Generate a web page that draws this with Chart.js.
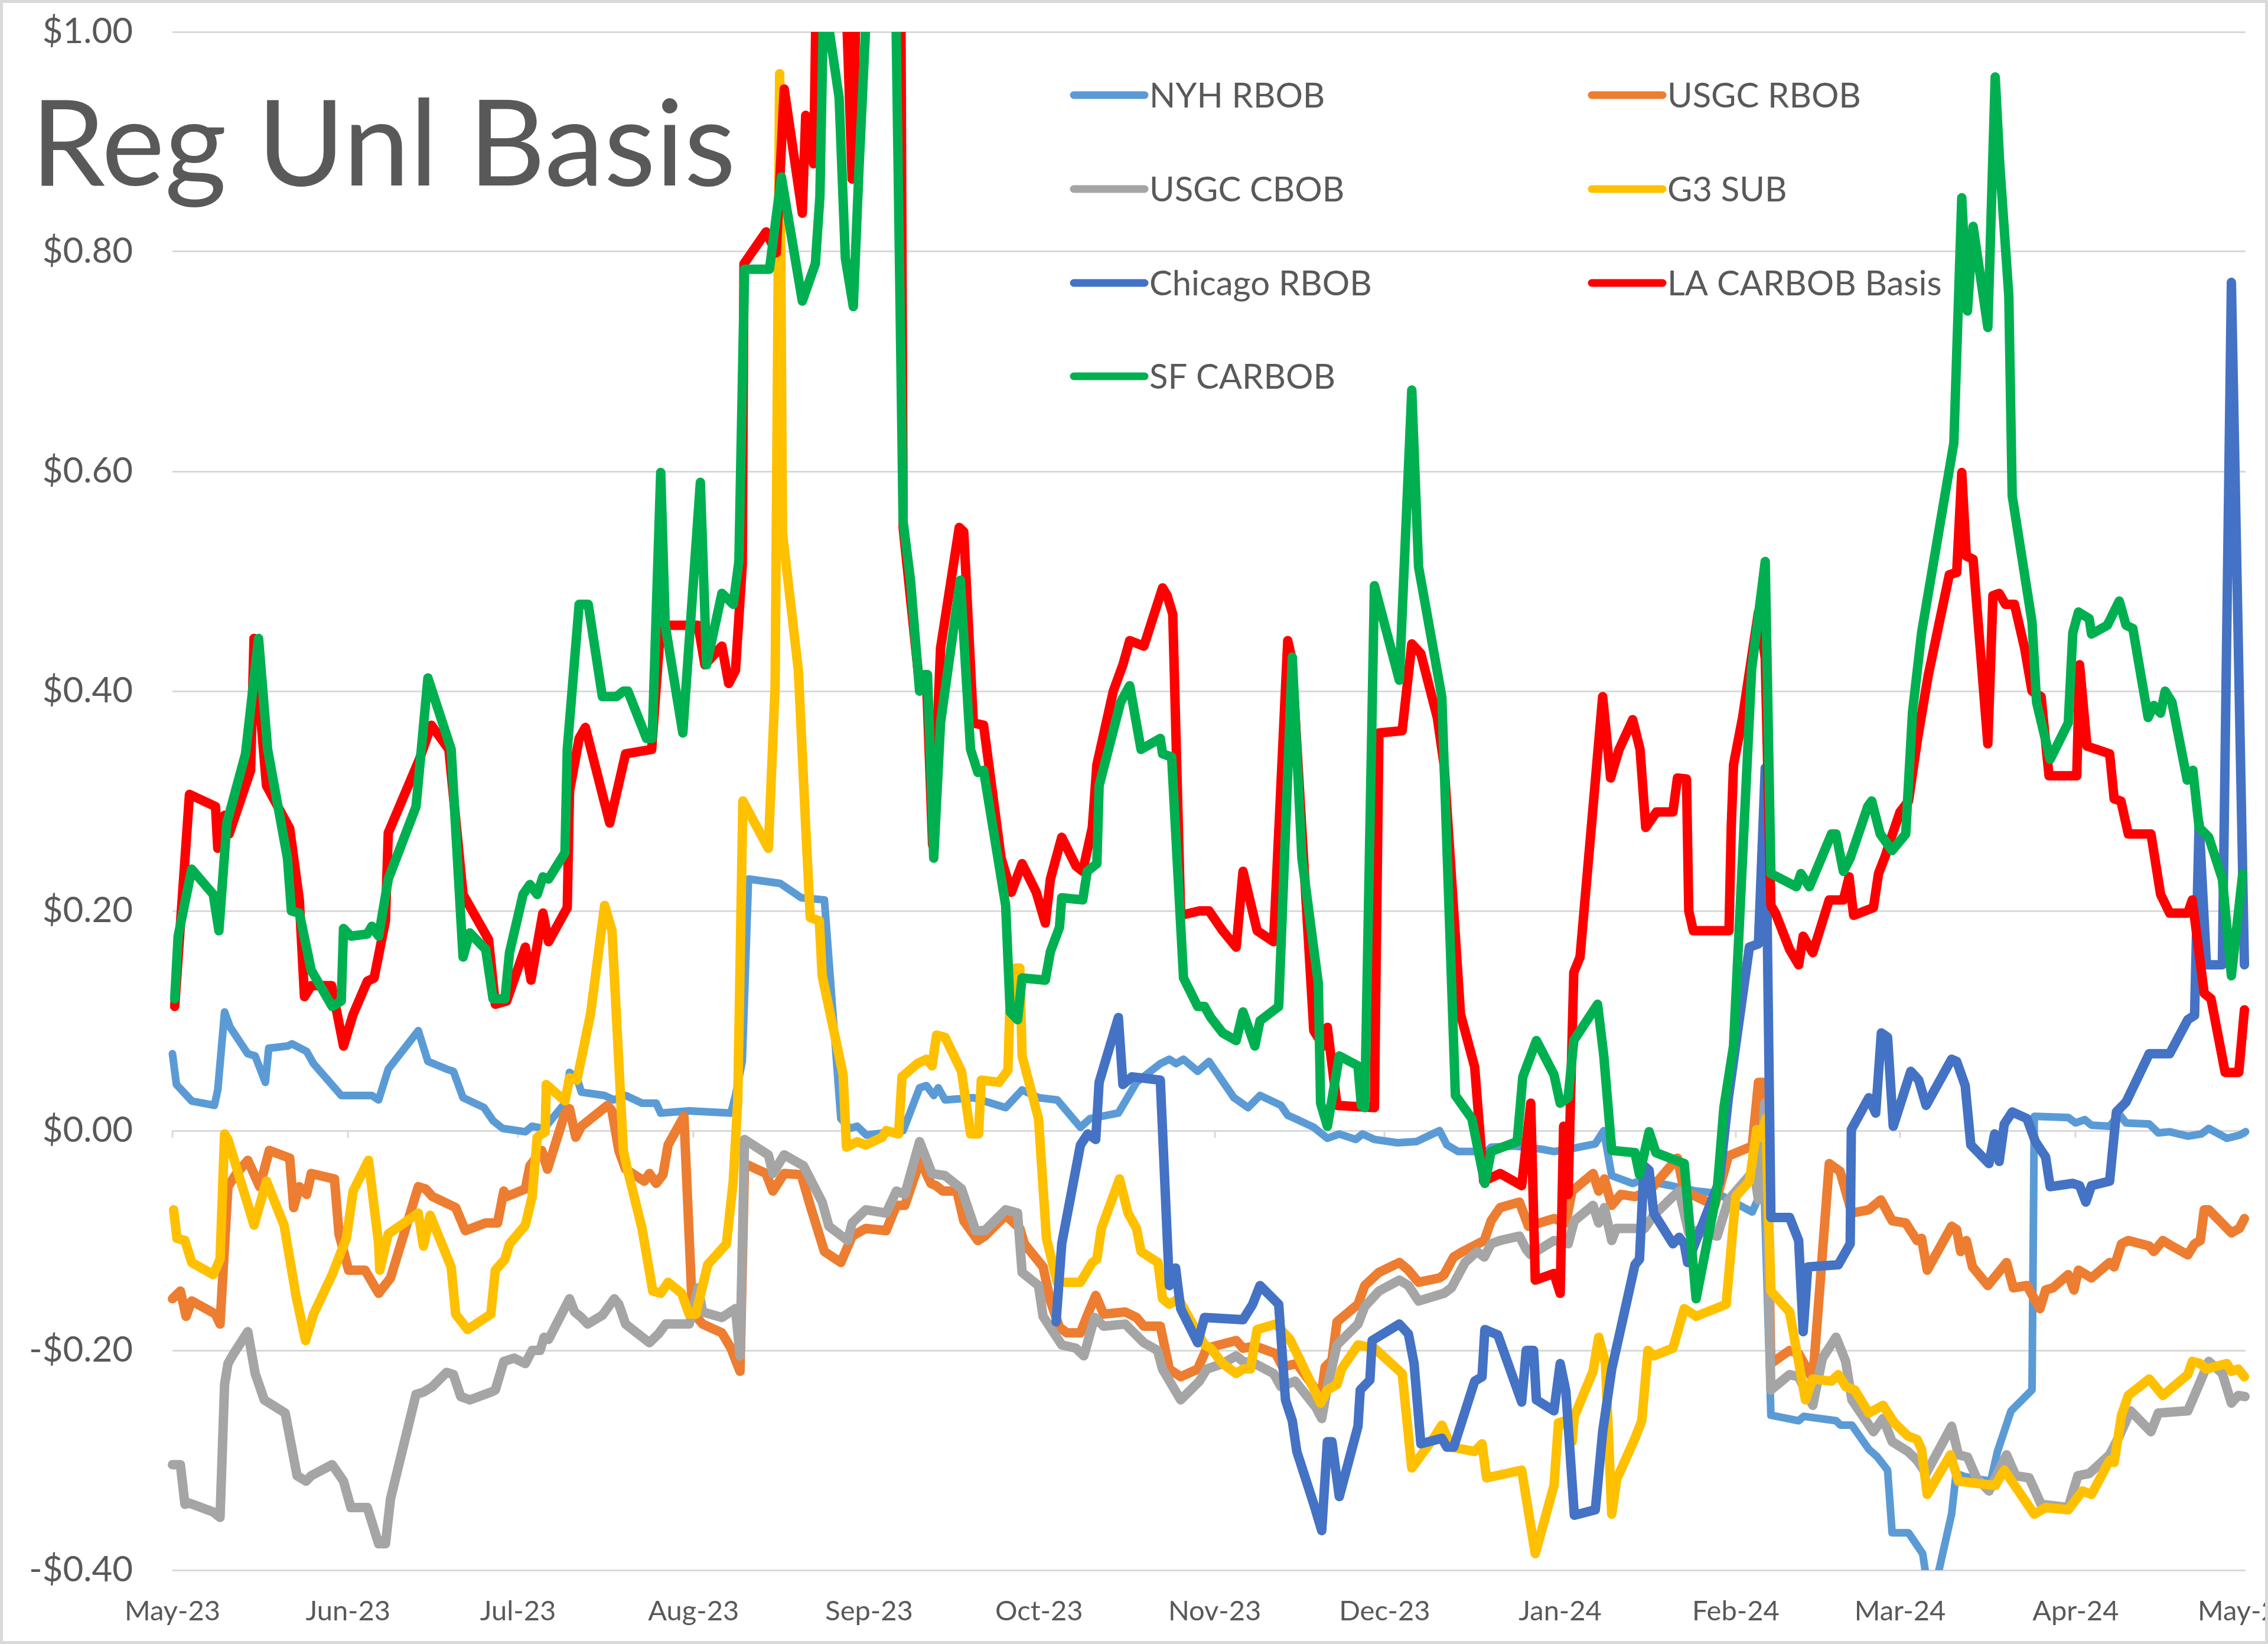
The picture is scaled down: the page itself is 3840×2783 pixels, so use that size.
<!DOCTYPE html>
<html>
<head>
<meta charset="utf-8">
<title>Reg Unl Basis</title>
<script src="https://cdn.jsdelivr.net/npm/chart.js@4.4.1/dist/chart.umd.min.js"></script>
<style>
  html, body { margin: 0; padding: 0; background: #fff; }
  canvas { display: block; }
</style>
</head>
<body>
<canvas id="basisChart" width="3840" height="2783"></canvas>
<script>
// x values are days counted from 1 May 2023
const monthDays = [0, 31, 61, 92, 123, 153, 184, 214, 245, 276, 305, 336, 366];
const monthLabels = ['May-23', 'Jun-23', 'Jul-23', 'Aug-23', 'Sep-23', 'Oct-23', 'Nov-23',
                     'Dec-23', 'Jan-24', 'Feb-24', 'Mar-24', 'Apr-24', 'May-24'];

const seriesNames = ['NYH RBOB', 'USGC RBOB', 'USGC CBOB', 'G3 SUB',
                     'Chicago RBOB', 'LA CARBOB Basis', 'SF CARBOB'];

// [day, $/gal]
const nyhRbob = [[0,0.070],[0.7,0.042],[3.4,0.027],[7.4,0.023],[8,0.037],[9.2,0.108],[10.2,0.094],[13.3,0.070],[14.6,0.068],[16.4,0.044],[17,0.075],[20.3,0.077],[21.1,0.079],[23.7,0.072],[24.9,0.061],[29.8,0.032],[35.2,0.032],[36.4,0.028],[38.1,0.056],[43.4,0.091],[45.1,0.063],[48.4,0.056],[49.6,0.054],[51.3,0.030],[55,0.021],[56.6,0.009],[58.3,0.002],[62.3,-0.001],[63.5,0.004],[65.6,0.002],[69.3,0.025],[70.1,0.053],[71.4,0.048],[72.2,0.035],[76.3,0.032],[77.9,0.028],[80,0.032],[82.9,0.025],[85.4,0.025],[86.2,0.016],[91.2,0.018],[98.6,0.016],[99.4,0.032],[100.6,0.063],[101.7,0.229],[107.3,0.225],[111,0.212],[115.1,0.210],[118,0.011],[119.6,0.002],[120.9,0.004],[122.5,-0.004],[125.7,-0.002],[129,0.000],[131.9,0.039],[133.1,0.041],[134.4,0.032],[135.2,0.039],[136.4,0.028],[141.4,0.030],[147.1,0.021],[150,0.037],[152.9,0.030],[156.2,0.028],[160.3,0.003],[162,0.011],[167,0.016],[170.2,0.044],[174.4,0.061],[176,0.065],[177.2,0.061],[178.5,0.065],[181,0.054],[183,0.063],[187.4,0.030],[189.9,0.021],[192,0.032],[195.7,0.023],[196.9,0.014],[198.2,0.011],[201.5,0.003],[203.9,-0.007],[206,-0.003],[208.9,-0.008],[210.1,-0.003],[212.2,-0.008],[216.3,-0.011],[219.6,-0.010],[223.7,0.000],[225,-0.013],[227,-0.019],[232,-0.019],[232.8,-0.015],[237,-0.014],[241.9,-0.017],[243.9,-0.019],[246.4,-0.017],[251.2,-0.012],[252.7,0.000],[254.1,-0.041],[257.8,-0.048],[259.4,-0.045],[264.5,-0.050],[269,-0.055],[272.7,-0.057],[278.9,-0.074],[281,-0.050],[282.2,-0.259],[287.1,-0.264],[288,-0.260],[293.7,-0.264],[294.5,-0.268],[296.5,-0.268],[299.5,-0.290],[301,-0.297],[302.8,-0.309],[303.6,-0.366],[306.5,-0.366],[309,-0.385],[310,-0.420],[311,-0.420],[314.1,-0.349],[314.9,-0.312],[316.5,-0.315],[321,-0.319],[322.2,-0.292],[324.6,-0.255],[328.3,-0.236],[328.7,0.013],[334.7,0.012],[336,0.007],[337.6,0.010],[338.8,0.005],[342,0.004],[343.7,0.015],[344.9,0.007],[349,0.006],[350.6,-0.002],[352.6,-0.001],[355.8,-0.005],[358.2,-0.003],[359.5,0.002],[362.7,-0.007],[365,-0.004],[366,-0.001]];

const usgcRbob = [[0,-0.153],[1.4,-0.146],[2.4,-0.169],[3.4,-0.155],[7.6,-0.167],[8.4,-0.176],[9.8,-0.051],[11.3,-0.039],[13.3,-0.027],[15.4,-0.051],[17.1,-0.018],[20.7,-0.025],[21.4,-0.070],[22.4,-0.051],[23.7,-0.058],[24.5,-0.039],[28.6,-0.044],[29.4,-0.094],[31.1,-0.127],[34,-0.127],[36.4,-0.148],[38.5,-0.134],[43.4,-0.051],[44.7,-0.053],[45.9,-0.060],[50,-0.070],[51.7,-0.091],[55.3,-0.084],[57.4,-0.084],[58.5,-0.055],[59,-0.060],[62.3,-0.053],[63.1,-0.032],[65.2,-0.018],[66.2,-0.035],[69.3,0.016],[70.1,0.020],[71.2,-0.006],[72.2,0.004],[76.8,0.023],[77.6,0.018],[78.8,-0.018],[80,-0.035],[83.3,-0.046],[84.2,-0.039],[85.4,-0.048],[86.6,-0.040],[87.5,-0.013],[90.3,0.013],[91.8,-0.165],[93.6,-0.176],[97,-0.184],[98.6,-0.198],[100.2,-0.219],[101,-0.030],[104.8,-0.039],[106,-0.055],[108,-0.039],[111,-0.040],[112.7,-0.070],[115.1,-0.110],[118,-0.120],[120,-0.096],[122.4,-0.089],[126,-0.091],[127.8,-0.068],[129.3,-0.068],[132,-0.027],[133.9,-0.048],[134.8,-0.050],[136,-0.055],[138.5,-0.055],[139.7,-0.082],[142.2,-0.100],[143.4,-0.096],[147.1,-0.077],[149.6,-0.089],[150.4,-0.103],[153.7,-0.124],[155,-0.155],[156.6,-0.179],[157.9,-0.184],[160.3,-0.184],[162,-0.162],[163,-0.150],[164.4,-0.167],[168.2,-0.165],[170.2,-0.170],[171.5,-0.178],[174.4,-0.178],[176,-0.217],[178,-0.224],[181,-0.217],[182.6,-0.198],[187.8,-0.191],[189,-0.198],[191.1,-0.196],[194.8,-0.203],[196,-0.215],[198.5,-0.212],[201.9,-0.236],[202.9,-0.238],[203.5,-0.215],[204.7,-0.209],[205.6,-0.174],[209.3,-0.158],[210.5,-0.141],[213,-0.129],[216.6,-0.120],[218.2,-0.127],[220,-0.138],[223.7,-0.134],[224.5,-0.131],[226.2,-0.115],[227.8,-0.110],[231.6,-0.100],[232.8,-0.082],[234.4,-0.070],[237.8,-0.065],[239.4,-0.087],[243.9,-0.080],[246,-0.084],[247.1,-0.055],[250.8,-0.039],[251.8,-0.055],[252.8,-0.044],[254.1,-0.068],[255.7,-0.058],[258.2,-0.060],[260.7,-0.055],[265.7,-0.025],[266.9,-0.055],[272.3,-0.068],[274.7,-0.023],[278.9,-0.014],[280,0.044],[281.2,0.044],[282.2,-0.212],[285.5,-0.200],[287.1,-0.203],[289.6,-0.226],[292.5,-0.030],[294.4,-0.037],[295.4,-0.055],[296.5,-0.075],[299.5,-0.072],[301.6,-0.063],[303.6,-0.082],[306,-0.084],[308,-0.100],[308.8,-0.098],[309.8,-0.127],[314.1,-0.087],[315,-0.090],[315.7,-0.110],[316.7,-0.100],[317.8,-0.124],[320.5,-0.141],[323.8,-0.120],[325,-0.143],[327.4,-0.141],[329.7,-0.162],[330.7,-0.145],[332,-0.143],[334.7,-0.131],[335.7,-0.145],[336.5,-0.127],[338.8,-0.134],[342,-0.120],[342.8,-0.124],[344.1,-0.103],[345.3,-0.100],[349,-0.105],[349.8,-0.110],[351.4,-0.100],[353,-0.105],[355.8,-0.113],[357,-0.103],[358,-0.100],[358.7,-0.072],[359.5,-0.072],[363.5,-0.093],[364.9,-0.089],[365.8,-0.080]];

const usgcCbob = [[0,-0.304],[1.4,-0.304],[2.2,-0.340],[3,-0.339],[7.2,-0.347],[8.4,-0.352],[9.2,-0.231],[9.8,-0.212],[10.8,-0.203],[13.3,-0.183],[14.6,-0.221],[16.2,-0.245],[19.9,-0.257],[22,-0.314],[23.6,-0.319],[24.5,-0.314],[28.2,-0.304],[30.2,-0.319],[31.5,-0.343],[34.4,-0.343],[36.4,-0.376],[37.6,-0.376],[38.5,-0.335],[43,-0.240],[44.3,-0.238],[45.9,-0.233],[48.4,-0.220],[49.6,-0.222],[50.9,-0.242],[52.5,-0.245],[56.2,-0.238],[57,-0.236],[58.5,-0.210],[60.3,-0.207],[62.3,-0.212],[63.5,-0.200],[64.9,-0.200],[65.6,-0.188],[66.4,-0.190],[70.1,-0.153],[71,-0.165],[72.2,-0.170],[73.3,-0.176],[75.9,-0.168],[78,-0.153],[78.8,-0.158],[80,-0.176],[84.2,-0.193],[85.8,-0.185],[87.1,-0.176],[91.2,-0.176],[91.6,-0.170],[92.8,-0.143],[93.6,-0.165],[97,-0.170],[99.4,-0.162],[100.2,-0.205],[101,-0.008],[105.2,-0.022],[106,-0.039],[108,-0.022],[111.4,-0.032],[114.7,-0.065],[115.9,-0.087],[119.2,-0.100],[120,-0.084],[122.4,-0.072],[126,-0.075],[127.8,-0.055],[129.3,-0.058],[131.9,-0.010],[134.1,-0.039],[136.4,-0.041],[139.3,-0.053],[141.8,-0.091],[143.4,-0.091],[147.1,-0.072],[149.2,-0.075],[150,-0.129],[152.9,-0.141],[153.7,-0.169],[157,-0.195],[159.5,-0.198],[160.9,-0.205],[162.8,-0.170],[164.4,-0.178],[168.2,-0.176],[171.5,-0.193],[173.9,-0.200],[174.8,-0.217],[178,-0.245],[181.3,-0.228],[182.6,-0.217],[185.4,-0.212],[187.8,-0.205],[189,-0.210],[191.1,-0.212],[194.4,-0.221],[195.7,-0.233],[198.2,-0.228],[201.9,-0.252],[202.9,-0.262],[203.9,-0.233],[205.6,-0.195],[209.3,-0.176],[210.5,-0.160],[213,-0.146],[216.6,-0.136],[218.2,-0.141],[220,-0.155],[224.5,-0.148],[225.8,-0.143],[228.2,-0.120],[230.3,-0.110],[231.6,-0.115],[232.8,-0.103],[234.4,-0.100],[237.8,-0.096],[239,-0.108],[239.8,-0.113],[243.9,-0.100],[246.4,-0.103],[247.5,-0.082],[250.8,-0.068],[251.8,-0.084],[252.8,-0.070],[254.1,-0.100],[254.9,-0.089],[259.9,-0.089],[261.5,-0.077],[264.9,-0.060],[266,-0.055],[267.7,-0.093],[269,-0.091],[272.7,-0.096],[274.7,-0.063],[278.4,-0.041],[279.3,-0.039],[280,-0.063],[281.1,0.025],[282.2,-0.236],[285.5,-0.222],[287.1,-0.224],[289.6,-0.250],[291.3,-0.207],[293.7,-0.188],[295.4,-0.210],[296.5,-0.245],[300.3,-0.274],[302,-0.262],[303.6,-0.283],[306.4,-0.292],[308,-0.300],[309.6,-0.312],[314.1,-0.269],[315.3,-0.295],[316.9,-0.297],[318.5,-0.316],[320.7,-0.328],[323.8,-0.295],[325.4,-0.314],[327.8,-0.316],[329.9,-0.340],[334.7,-0.343],[336.4,-0.314],[338.4,-0.312],[342,-0.295],[343.7,-0.278],[345.7,-0.255],[349.3,-0.274],[350.6,-0.257],[355.8,-0.255],[357.8,-0.231],[359.5,-0.210],[361.9,-0.221],[363.5,-0.248],[364.7,-0.241],[365.9,-0.242]];

const g3Sub = [[0.2,-0.072],[0.8,-0.098],[2.2,-0.100],[3.4,-0.120],[7.2,-0.131],[8.4,-0.117],[9.2,-0.003],[9.8,-0.008],[14.4,-0.086],[16.6,-0.046],[19.7,-0.086],[21.8,-0.150],[23.5,-0.191],[24.9,-0.167],[28.2,-0.131],[30.7,-0.098],[31.9,-0.055],[34.6,-0.027],[36.4,-0.103],[36.6,-0.127],[38.1,-0.094],[43.4,-0.075],[44.3,-0.105],[45.5,-0.077],[49.2,-0.124],[50,-0.167],[52.1,-0.181],[56.2,-0.167],[57,-0.127],[58.7,-0.117],[59.5,-0.103],[62.3,-0.086],[63.5,-0.060],[64.4,-0.006],[65.8,-0.001],[66,0.042],[69.3,0.027],[70.1,0.048],[71.4,0.046],[73.8,0.106],[76.3,0.205],[77.6,0.182],[79.6,-0.018],[80.4,-0.037],[82.9,-0.089],[84.8,-0.146],[86.2,-0.148],[87.5,-0.138],[89.9,-0.148],[91.2,-0.167],[92.4,-0.167],[94.5,-0.122],[97.8,-0.103],[99,-0.046],[99.8,0.027],[100.7,0.300],[105.2,0.257],[106.4,0.405],[107.2,0.962],[107.7,0.544],[110.5,0.419],[111.8,0.276],[112.6,0.194],[114.2,0.191],[114.7,0.141],[118.4,0.051],[119,-0.015],[120.9,-0.010],[122.4,-0.013],[125.3,-0.006],[126,0.000],[128.2,-0.003],[128.8,0.049],[131.5,0.061],[133.1,0.065],[134.1,0.059],[134.9,0.087],[136.4,0.085],[139.3,0.054],[140.9,-0.003],[142.3,-0.003],[142.8,0.046],[145.9,0.044],[147.5,0.055],[147.8,0.106],[148.8,0.148],[149.6,0.148],[150,0.068],[152.9,0.011],[154.3,-0.098],[156.2,-0.138],[160.3,-0.138],[162.4,-0.120],[163.2,-0.117],[164,-0.089],[167.2,-0.044],[168.7,-0.075],[170.2,-0.089],[171,-0.110],[174,-0.120],[174.8,-0.153],[176,-0.158],[177.6,-0.153],[182.2,-0.195],[183.3,-0.198],[185.4,-0.212],[187.8,-0.221],[189,-0.217],[190.3,-0.217],[191.5,-0.181],[194.8,-0.176],[197.3,-0.190],[198.9,-0.207],[202.7,-0.248],[203.9,-0.236],[205.6,-0.231],[206.4,-0.217],[209.3,-0.195],[212.2,-0.198],[217.1,-0.221],[218.8,-0.307],[222.9,-0.278],[224.1,-0.268],[225.8,-0.288],[229.9,-0.292],[231.2,-0.285],[232,-0.316],[238.2,-0.309],[240.6,-0.385],[243.9,-0.323],[244.7,-0.266],[246,-0.264],[247.1,-0.283],[247.5,-0.260],[250.8,-0.219],[251.8,-0.188],[253,-0.212],[254.1,-0.349],[255,-0.317],[258.2,-0.280],[259.4,-0.264],[260.5,-0.200],[261.5,-0.205],[264.9,-0.198],[266.9,-0.162],[269,-0.169],[274.3,-0.158],[276,-0.060],[278.4,-0.046],[279.7,0.001],[280.5,-0.006],[281.3,0.011],[282.2,-0.146],[285.5,-0.165],[288.3,-0.245],[289.6,-0.226],[292.9,-0.228],[294.1,-0.222],[295.4,-0.233],[297,-0.236],[299.5,-0.257],[302,-0.250],[304,-0.266],[306.4,-0.278],[308,-0.281],[308.8,-0.290],[309.8,-0.331],[313.9,-0.295],[315.3,-0.319],[321.8,-0.323],[323.4,-0.309],[328.7,-0.349],[330.7,-0.343],[334.7,-0.345],[337.2,-0.328],[338.8,-0.331],[342,-0.300],[342.8,-0.302],[344.1,-0.259],[345.3,-0.241],[349,-0.226],[351.4,-0.241],[355.8,-0.222],[356.6,-0.210],[358,-0.212],[359,-0.217],[362.7,-0.212],[363.5,-0.219],[364.7,-0.217],[365.8,-0.224]];

const chicagoRbob = [[156,-0.174],[157,-0.103],[160.3,-0.013],[161.6,-0.003],[163,-0.008],[163.6,0.044],[167,0.103],[167.8,0.042],[169.4,0.049],[174.4,0.046],[176,-0.141],[177.1,-0.125],[178,-0.162],[181,-0.193],[182.2,-0.170],[189,-0.172],[190.7,-0.158],[192,-0.141],[195.3,-0.158],[196.5,-0.245],[197.7,-0.264],[198.5,-0.292],[201.5,-0.340],[202.9,-0.364],[203.9,-0.283],[204.7,-0.283],[206,-0.333],[209.3,-0.269],[209.7,-0.236],[211.4,-0.227],[211.8,-0.191],[216.6,-0.176],[218.2,-0.185],[219.2,-0.212],[220.4,-0.285],[224.1,-0.280],[225,-0.288],[226.2,-0.288],[229.9,-0.228],[231.2,-0.224],[231.7,-0.181],[234,-0.186],[238.2,-0.247],[239,-0.200],[240.3,-0.200],[240.8,-0.245],[243.9,-0.255],[245,-0.212],[246,-0.237],[247.5,-0.350],[251.2,-0.345],[252.5,-0.274],[254.1,-0.217],[258.2,-0.122],[259,-0.117],[259.8,-0.032],[260.7,-0.036],[261.5,-0.075],[264.9,-0.103],[266,-0.097],[266.9,-0.103],[267.5,-0.120],[269,-0.100],[273.1,-0.046],[274.7,0.030],[278.4,0.167],[280,0.170],[281.2,0.330],[282.2,-0.079],[285.5,-0.079],[287.1,-0.100],[287.9,-0.183],[288.7,-0.124],[294.1,-0.122],[296.2,-0.103],[296.4,0.001],[299.5,0.030],[300.7,0.016],[301.7,0.089],[302.8,0.085],[303.8,0.004],[306.9,0.054],[308.3,0.046],[309.6,0.023],[314.1,0.065],[315,0.063],[316.5,0.041],[317.5,-0.013],[320.7,-0.030],[321.7,-0.003],[322.5,-0.028],[323.4,0.006],[324.8,0.017],[327.4,0.011],[328.9,-0.010],[330.7,-0.024],[331.5,-0.051],[335.5,-0.048],[336.7,-0.050],[337.8,-0.065],[338.8,-0.050],[342,-0.046],[343.2,0.017],[344.9,0.026],[349,0.070],[352.6,0.070],[355.8,0.101],[357,0.105],[357.8,0.280],[359.1,0.151],[361.9,0.151],[363.5,0.772],[365.8,0.151]];

const laCarbob = [[0.4,0.113],[3,0.306],[7.6,0.295],[8,0.257],[9.2,0.287],[10,0.270],[13.8,0.328],[14.4,0.448],[16.6,0.314],[20.7,0.275],[22.4,0.210],[23.3,0.122],[24.5,0.132],[28.1,0.132],[30.2,0.077],[31.9,0.106],[34.4,0.136],[35.6,0.139],[37.6,0.191],[38.1,0.271],[43.6,0.338],[45.7,0.369],[48.8,0.347],[51.3,0.215],[55.8,0.174],[57,0.115],[59,0.118],[62.3,0.167],[63.3,0.137],[65.4,0.198],[66.4,0.172],[69.7,0.203],[70.1,0.309],[71.8,0.357],[72.9,0.367],[77.2,0.280],[80,0.343],[84.6,0.347],[86.2,0.460],[92.8,0.460],[94,0.424],[97,0.441],[98.2,0.407],[99.4,0.419],[100.6,0.515],[100.9,0.789],[104.8,0.818],[106.6,0.799],[108,0.948],[111.2,0.835],[111.8,0.924],[113.2,0.880],[114,1.150],[118,1.150],[118.8,1.050],[120,0.866],[121,1.100],[128.5,1.150],[129,0.549],[131.9,0.405],[133.1,0.415],[134.2,0.260],[135.6,0.439],[138.9,0.549],[139.7,0.545],[141.4,0.371],[143.2,0.369],[146.3,0.248],[148.1,0.217],[150,0.243],[152.5,0.217],[154.1,0.189],[155,0.229],[157,0.267],[159.5,0.241],[160.7,0.236],[162.4,0.276],[163.2,0.333],[166.1,0.400],[167.8,0.424],[169,0.446],[171.5,0.441],[174.8,0.494],[175.6,0.487],[176.6,0.470],[178,0.196],[181.3,0.200],[183,0.200],[185.4,0.182],[187.8,0.167],[189,0.236],[191.5,0.182],[194.4,0.172],[196.9,0.446],[197.6,0.430],[201.5,0.091],[203.2,0.077],[203.9,0.094],[205.6,0.023],[212.2,0.021],[213,0.362],[217.1,0.364],[218.8,0.443],[220.4,0.434],[223.3,0.376],[224.5,0.333],[227.4,0.106],[229.9,0.058],[231.5,-0.046],[234.4,-0.039],[238.2,-0.050],[239.8,0.025],[240.6,-0.136],[243.9,-0.130],[245,-0.148],[245.6,0.004],[246.4,-0.058],[247.4,0.144],[248.5,0.158],[252.5,0.395],[253.9,0.321],[255.4,0.347],[257.8,0.374],[259.1,0.347],[260.1,0.276],[262,0.290],[264.9,0.290],[265.7,0.321],[267.3,0.320],[267.7,0.200],[268.5,0.182],[274.8,0.182],[275.2,0.276],[275.6,0.333],[277.2,0.376],[280,0.472],[281.2,0.430],[282.2,0.205],[283,0.198],[285.5,0.165],[287.1,0.151],[287.9,0.177],[289.6,0.162],[292.5,0.210],[295,0.210],[296,0.231],[296.8,0.196],[300.3,0.203],[301.2,0.234],[302.4,0.250],[303.2,0.263],[305,0.290],[306.5,0.300],[308.1,0.357],[310,0.415],[313.7,0.506],[315,0.508],[315.9,0.599],[316.7,0.523],[317.9,0.520],[320.5,0.352],[321.4,0.487],[322.5,0.489],[323.6,0.479],[325.2,0.479],[327,0.439],[328.3,0.400],[329.9,0.395],[331.3,0.323],[336.2,0.323],[336.7,0.424],[338,0.350],[342,0.343],[342.8,0.302],[344,0.300],[345.3,0.270],[349.3,0.270],[351,0.215],[352.6,0.198],[355.8,0.198],[356.6,0.210],[358.7,0.125],[359.9,0.120],[362.4,0.053],[364.8,0.053],[365.8,0.110]];

const sfCarbob = [[0.4,0.120],[1,0.177],[3.4,0.238],[7.2,0.215],[8.2,0.182],[9.6,0.280],[12.9,0.343],[15.2,0.448],[16.8,0.347],[20.3,0.248],[21,0.200],[22.4,0.198],[24.5,0.146],[28.2,0.113],[29.8,0.118],[30.2,0.184],[31.5,0.177],[34.4,0.179],[35.2,0.186],[36.4,0.177],[38.1,0.229],[43,0.295],[45.1,0.412],[49.2,0.347],[51.3,0.158],[52.5,0.180],[55.3,0.165],[56.6,0.120],[58.7,0.120],[59.5,0.162],[61.9,0.215],[63.1,0.224],[64.4,0.215],[65.4,0.231],[66.4,0.229],[69.3,0.253],[69.7,0.347],[71.8,0.479],[73.4,0.479],[75.9,0.395],[78.4,0.395],[79.6,0.400],[80.4,0.400],[83.7,0.357],[84.7,0.357],[86.2,0.599],[87,0.460],[90.1,0.362],[93.2,0.590],[94.3,0.424],[97,0.489],[99,0.479],[100,0.518],[101,0.784],[105.4,0.784],[107.5,0.868],[111.2,0.755],[113.5,0.789],[114.3,0.850],[114.9,1.010],[115.7,1.010],[117.7,0.940],[118.8,0.794],[120.2,0.750],[121.2,0.875],[122.8,1.050],[127.5,1.100],[129,0.554],[130.3,0.501],[131.9,0.400],[132.7,0.415],[133.3,0.415],[134.4,0.248],[135.6,0.371],[139.1,0.501],[140.9,0.347],[142.2,0.326],[143.2,0.328],[147.1,0.205],[147.9,0.108],[149.2,0.101],[150,0.139],[154.1,0.137],[155,0.163],[156.6,0.185],[157,0.212],[160.7,0.210],[161.5,0.236],[163.2,0.243],[163.6,0.314],[167.4,0.390],[169,0.405],[171,0.347],[174.4,0.357],[174.8,0.343],[176.4,0.340],[178.5,0.139],[181,0.113],[182.2,0.113],[183.3,0.103],[185.4,0.089],[187.8,0.082],[189,0.108],[191.1,0.077],[192,0.100],[195.3,0.113],[197.7,0.431],[199.4,0.248],[202.3,0.134],[202.7,0.025],[203.9,0.004],[206,0.068],[209.3,0.059],[209.9,0.023],[210.5,0.021],[212.2,0.496],[216.6,0.410],[218.8,0.674],[220,0.513],[224.1,0.395],[226.5,0.032],[229.4,0.011],[231.7,-0.048],[232.8,-0.019],[237.4,-0.010],[238.4,0.049],[240.8,0.082],[243.9,0.051],[245,0.025],[246.4,0.030],[247.4,0.082],[251.6,0.115],[252.7,0.068],[254.1,-0.018],[258.2,-0.020],[259,-0.040],[260.7,-0.001],[261.9,-0.020],[266.9,-0.030],[269,-0.153],[272.7,-0.055],[273.9,0.021],[275.6,0.077],[278.8,0.420],[281.2,0.518],[282.2,0.234],[286.7,0.222],[287.5,0.234],[289,0.222],[292.9,0.270],[293.7,0.270],[295,0.236],[296.2,0.248],[299.3,0.295],[300,0.300],[301.5,0.270],[303.6,0.255],[306,0.270],[307.2,0.381],[308.8,0.453],[314.5,0.626],[315.9,0.849],[316.9,0.746],[317.9,0.823],[320.5,0.731],[321.8,0.959],[322.6,0.880],[324.2,0.760],[324.8,0.578],[328.3,0.463],[329.1,0.390],[331.5,0.338],[334.7,0.371],[335.5,0.453],[336.5,0.472],[338.4,0.466],[338.8,0.452],[341.6,0.460],[343.7,0.482],[344.9,0.460],[346.1,0.457],[348.8,0.376],[349.8,0.387],[351,0.380],[351.8,0.400],[353,0.390],[355.7,0.319],[356.7,0.328],[357.8,0.276],[359.5,0.267],[361.9,0.229],[363.5,0.141],[365.5,0.234]];

const allSeries = [nyhRbob, usgcRbob, usgcCbob, g3Sub, chicagoRbob, laCarbob, sfCarbob];
const seriesColors = ['#5B9BD5', '#ED7D31', '#A5A5A5', '#FFC000', '#4472C4', '#FF0000', '#00B050'];
const seriesWidths = [13, 16, 16, 16, 16, 16, 16];

const TEXT = '#595959';
const GRID = '#D9D9D9';
Chart.defaults.font.family = 'Lato';
Chart.defaults.color = TEXT;

function money(v) {
    const r = Math.round(v * 100) / 100;
    return (r < 0 ? '-' : '') + '$' + Math.abs(r).toFixed(2);
}

// title, in-plot legend, axis tick marks and chart border
const decorations = {
    id: 'decorations',
    beforeDraw(chart) {
        const ctx = chart.ctx;
        ctx.save();
        ctx.fillStyle = '#ffffff';
        ctx.fillRect(0, 0, chart.width, chart.height);
        ctx.restore();
    },
    beforeDatasetsDraw(chart) {
        const ctx = chart.ctx;
        const x = chart.scales.x, y = chart.scales.y;
        const y0 = y.getPixelForValue(0);
        ctx.save();
        ctx.strokeStyle = GRID;
        ctx.lineWidth = 3;
        monthDays.forEach(d => {
            const px = Math.round(x.getPixelForValue(d));
            ctx.beginPath();
            ctx.moveTo(px, y0);
            ctx.lineTo(px, y0 + 12);
            ctx.stroke();
        });
        ctx.restore();
    },
    afterDraw(chart) {
        const ctx = chart.ctx;
        ctx.save();
        ctx.fillStyle = TEXT;
        ctx.textBaseline = 'alphabetic';
        ctx.font = '202px Lato';
        ctx.fillText('Reg Unl Basis', 52, 314);

        // legend: two columns, filled row by row
        const colLine = [1818, 2695];
        const rowY = [161, 320, 479, 637];
        ctx.font = '58px Lato';
        ctx.lineCap = 'round';
        seriesNames.forEach((name, i) => {
            const c = i % 2, r = Math.floor(i / 2);
            const lx = colLine[c], ly = rowY[r];
            ctx.strokeStyle = seriesColors[i];
            ctx.lineWidth = 13;
            ctx.beginPath();
            ctx.moveTo(lx, ly);
            ctx.lineTo(lx + 120, ly);
            ctx.stroke();
            ctx.fillText(name, lx + 128, ly + 21);
        });

        ctx.strokeStyle = GRID;
        ctx.lineWidth = 5;
        ctx.strokeRect(2.5, 2.5, chart.width - 5, chart.height - 5);
        ctx.restore();
    }
};

new Chart(document.getElementById('basisChart'), {
    type: 'line',
    data: {
        datasets: allSeries.map((s, i) => ({
            label: seriesNames[i],
            data: s.map(p => ({ x: p[0], y: p[1] })),
            borderColor: seriesColors[i],
            backgroundColor: seriesColors[i],
            borderWidth: seriesWidths[i],
            borderJoinStyle: 'round',
            borderCapStyle: 'round',
            pointRadius: 0,
            tension: 0,
            fill: false,
            order: allSeries.length - i,
            clip: { left: 40, right: 40, top: 0, bottom: 0 }
        }))
    },
    options: {
        responsive: false,
        animation: false,
        devicePixelRatio: 1,
        layout: { padding: { left: 0, right: 38, top: 54, bottom: 0 } },
        plugins: {
            legend: { display: false },
            tooltip: { enabled: false },
            title: { display: false }
        },
        scales: {
            x: {
                type: 'linear',
                min: 0,
                max: 366,
                grid: { display: false },
                border: { display: false },
                afterBuildTicks: axis => {
                    axis.ticks = monthDays.map(d => ({ value: d }));
                },
                afterFit: axis => {
                    axis.height = 125;
                    axis.paddingLeft = 0;
                    axis.paddingRight = 0;
                },
                ticks: {
                    autoSkip: false,
                    maxRotation: 0,
                    minRotation: 0,
                    padding: 34,
                    color: TEXT,
                    font: { size: 47 },
                    callback: (v, i) => monthLabels[i]
                }
            },
            y: {
                min: -0.4,
                max: 1.0,
                grid: { color: GRID, lineWidth: 3, drawTicks: false },
                border: { display: false },
                afterFit: axis => {
                    axis.width = 292;
                    axis.paddingTop = 0;
                    axis.paddingBottom = 0;
                },
                ticks: {
                    stepSize: 0.2,
                    padding: 67,
                    color: TEXT,
                    font: { size: 60 },
                    callback: v => money(v)
                }
            }
        }
    },
    plugins: [decorations]
});
</script>
</body>
</html>
